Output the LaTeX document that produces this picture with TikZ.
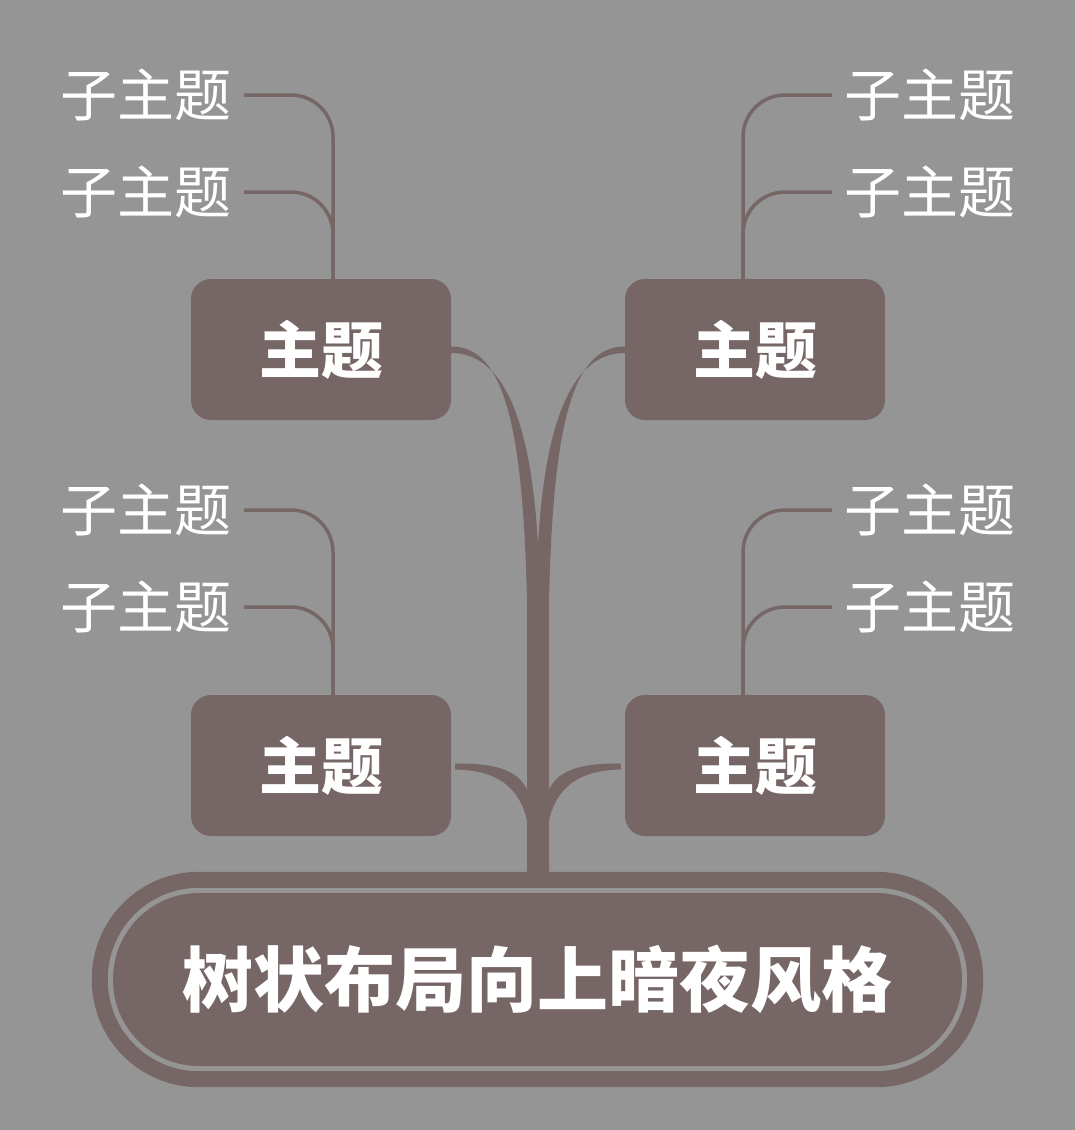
\documentclass[tikz,border=0pt]{standalone}
\usepackage{fontspec}
\newfontfamily\cjk{Noto Sans CJK SC}
\usetikzlibrary{calc}
\definecolor{bgc}{RGB}{149,149,149}
\definecolor{brn}{RGB}{118,102,102}
\begin{document}
\begin{tikzpicture}[x=1pt,y=-1pt,
 topic/.style={fill=brn, rounded corners=20pt, minimum width=260pt, minimum height=141pt, text=white, font=\cjk\bfseries\fontsize{62}{62}\selectfont, inner sep=0pt},
 sub/.style={text=white, font=\cjk\fontsize{57}{57}\selectfont, inner sep=0pt},
 subline/.style={draw=brn, line width=3.5pt, rounded corners=42pt},
 rootbox/.style={fill=brn, rounded corners=86pt, minimum width=849pt, minimum height=173pt, text=white, font=\cjk\bfseries\fontsize{71}{71}\selectfont, inner sep=0pt},
 ring/.style={draw=brn, line width=16pt, rounded corners=99pt},
 branch/.style={fill=brn}]
\fill[bgc] (0,0) rectangle (1075,1130);
\useasboundingbox (0,0) rectangle (1075,1130);

% topics
\node[topic] (t1) at (321,349.5) {主题};
\node[topic] (t2) at (755,349.5) {主题};
\node[topic] (t3) at (321,765.5) {主题};
\node[topic] (t4) at (755,765.5) {主题};

% root
\node[rootbox] (r) at (537.5,979.5) {树状布局向上暗夜风格};
\coordinate (base) at ($(r.north)+(0,-13)$);

% subtopics
\node[sub, anchor=east] (s1) at (232,95) {子主题};
\node[sub, anchor=east] (s2) at (232,192) {子主题};
\node[sub, anchor=east] (s3) at (232,510) {子主题};
\node[sub, anchor=east] (s4) at (232,607) {子主题};
\node[sub, anchor=west] (s5) at (844,95) {子主题};
\node[sub, anchor=west] (s6) at (844,192) {子主题};
\node[sub, anchor=west] (s7) at (844,510) {子主题};
\node[sub, anchor=west] (s8) at (844,607) {子主题};

% subtopic connectors
\draw[subline] ([xshift=12pt]s1.east) -| ([xshift=12pt]t1.north);
\draw[subline] ([xshift=12pt]s2.east) -| ([xshift=12pt]t1.north);
\draw[subline] ([xshift=12pt]s3.east) -| ([xshift=12pt]t3.north);
\draw[subline] ([xshift=12pt]s4.east) -| ([xshift=12pt]t3.north);
\draw[subline] ([xshift=-12pt]s5.west) -| ([xshift=-12pt]t2.north);
\draw[subline] ([xshift=-12pt]s6.west) -| ([xshift=-12pt]t2.north);
\draw[subline] ([xshift=-12pt]s7.west) -| ([xshift=-12pt]t4.north);
\draw[subline] ([xshift=-12pt]s8.west) -| ([xshift=-12pt]t4.north);

% tapered branches (upper)
\fill[branch] ($(t1.east)+(0,-3)$) .. controls (505,346) and (523,430) .. (527,600)
  -- (527,880) -- (538,880) -- (538,545) .. controls (530,400) and (495,353) .. ($(t1.east)+(0,3.5)$) -- cycle;
\fill[branch] ($(t2.west)+(0,-3)$) .. controls (571,346) and (553,430) .. (549,600)
  -- (549,880) -- (538,880) -- (538,545) .. controls (546,400) and (581,353) .. ($(t2.west)+(0,3.5)$) -- cycle;
% tapered branches (lower)
\fill[branch] ($(t3.east)+(4,-2)$) .. controls (500,763) and (522,772) .. (529,795)
  -- (529,832) .. controls (524,790) and (500,770) .. ($(t3.east)+(4,4)$) -- cycle;
\fill[branch] ($(t4.west)+(-4,-2)$) .. controls (576,763) and (554,772) .. (547,795)
  -- (547,832) .. controls (552,790) and (576,770) .. ($(t4.west)+(-4,4)$) -- cycle;
\fill[branch] (527,760) rectangle (base -| 549,0);

% root ring
\draw[ring] ($(r.north west)+(-13,-13)$) rectangle ($(r.south east)+(13,13)$);
\end{tikzpicture}
\end{document}
